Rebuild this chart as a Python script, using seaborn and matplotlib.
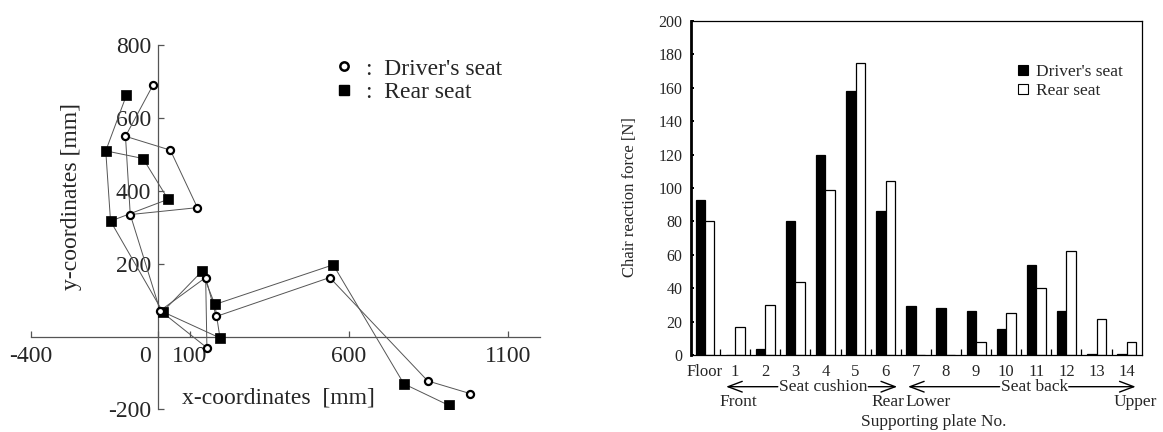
import numpy as np
import pandas as pd
import matplotlib
matplotlib.use("Agg")
import matplotlib.pyplot as plt
import seaborn as sns
from matplotlib.lines import Line2D
from matplotlib.transforms import ScaledTranslation, blended_transform_factory

# ---------------- posture: joint coordinates [mm] ----------------
joint_names = ["head", "shoulder", "elbow", "hand", "waist", "hip",
               "thigh", "thigh_low", "seat", "knee", "ankle", "toe"]
driver_x = [-17, -103, 38, 123, -88, 6, 149, 182, 153, 539, 847, 981]
driver_y = [690, 550, 512, 354, 335, 71, 162, 55, -31, 162, -122, -157]
rear_x = [-100, -165, -48, 31, -150, 14, 137, 178, 194, 550, 772, 913]
rear_y = [663, 510, 489, 377, 317, 68, 179, 88, -4, 197, -130, -189]

# segments between joints (index pairs)
driver_links = [(0, 1), (1, 2), (2, 3), (3, 4), (1, 4), (4, 5), (5, 6), (6, 7),
                (6, 8), (5, 8), (7, 9), (9, 10), (10, 11)]
rear_links = [(0, 1), (1, 2), (2, 3), (3, 4), (1, 4), (4, 5), (5, 6), (6, 7),
              (7, 8), (5, 8), (7, 9), (9, 10), (10, 11)]

# ---------------- chair reaction force per supporting plate [N] ----------------
plates = ["Floor", "1", "2", "3", "4", "5", "6", "7", "8", "9", "10", "11", "12", "13", "14"]
driver_force = [93, 0, 4, 80, 120, 158, 86, 29.5, 28.5, 26.5, 16, 54, 26.5, 1, 1]
rear_force = [80, 17, 30, 44, 99, 175, 104, 0, 0, 8, 25.5, 40, 62.5, 21.5, 8]
seat_names = ["Driver's seat", "Rear seat"]

sns.set_theme(style="white")
plt.rcParams["font.family"] = ["Liberation Serif", "DejaVu Serif"]
plt.rcParams["mathtext.fontset"] = "stix"

W, H = 1163, 432
fig = plt.figure(figsize=(W / 100, H / 100), dpi=100)


def fx(px):
    return px / W


def fy(py):
    return 1 - py / H


# ======================= left: posture =======================
ax1 = fig.add_axes([fx(31), fy(409.3), fx(540 - 31), (409.3 - 45.3) / H])
ax1.set_xlim(-400, 1200)
ax1.set_ylim(-200, 800)

axis_col = "#555555"
for side in ["top", "right"]:
    ax1.spines[side].set_visible(False)
ax1.spines["left"].set_position(("data", 0))
ax1.spines["bottom"].set_position(("data", 0))
for side in ["left", "bottom"]:
    ax1.spines[side].set_color(axis_col)
    ax1.spines[side].set_linewidth(0.9)

line_rows = []
for series, xs, ys, links in [("driver", driver_x, driver_y, driver_links),
                              ("rear", rear_x, rear_y, rear_links)]:
    for k, (a, b) in enumerate(links):
        line_rows.append({"seg": f"{series}{k}", "series": series, "x": xs[a], "y": ys[a], "order": 0})
        line_rows.append({"seg": f"{series}{k}", "series": series, "x": xs[b], "y": ys[b], "order": 1})
lines_df = pd.DataFrame(line_rows)
sns.lineplot(data=lines_df, x="x", y="y", units="seg", estimator=None, sort=False,
             color="#555555", linewidth=0.7, ax=ax1, zorder=2)

sns.scatterplot(x=rear_x, y=rear_y, marker="s", s=42, color="black",
                edgecolor="black", linewidth=0.5, ax=ax1, zorder=3)
sns.scatterplot(x=driver_x, y=driver_y, marker="o", s=26, color="white",
                edgecolor="black", linewidth=1.6, ax=ax1, zorder=4)

ax1.set_xticks([-400, 0, 100, 600, 1100])
ax1.set_xticklabels(["-400", "0", "100", "600", "1100"])
ax1.set_yticks([-200, 200, 400, 600, 800])
ax1.set_yticklabels(["-200", "200", "400", "600", "800"])
ax1.tick_params(axis="both", direction="in", length=4, width=0.9, color=axis_col,
                labelsize=17, pad=5, bottom=True, left=True)
ax1.tick_params(axis="x", pad=7)
# origin label sits left of the vertical axis
zero_lbl = ax1.get_xticklabels()[1]
zero_lbl.set_transform(zero_lbl.get_transform() + ScaledTranslation(-0.13, 0, fig.dpi_scale_trans))
ax1.set_xlabel("")
ax1.set_ylabel("")

fig.text(fx(72), fy(196), "y-coordinates [mm]", rotation=90, ha="center", va="center", fontsize=17)
fig.text(fx(278), fy(398), "x-coordinates  [mm]", ha="center", va="center", fontsize=17)

h_drv = Line2D([], [], marker="o", ls="none", markersize=6, markerfacecolor="white",
               markeredgecolor="black", markeredgewidth=1.8)
h_rear = Line2D([], [], marker="s", ls="none", markersize=7, markerfacecolor="black",
                markeredgecolor="black")
leg1 = ax1.legend([h_drv, h_rear], [":  Driver's seat", ":  Rear seat"],
                  loc="upper left", bbox_to_anchor=(fx(335), fy(58)),
                  bbox_transform=fig.transFigure, frameon=False, fontsize=17,
                  handlelength=0.8, handletextpad=0.5, borderpad=0, borderaxespad=0,
                  labelspacing=0.1)

# ======================= right: reaction forces =======================
ax2 = fig.add_axes([fx(691), fy(355.3), fx(1141.7 - 691), (355.3 - 20.7) / H])

force_df = pd.DataFrame({
    "plate": plates * 2,
    "seat": [seat_names[0]] * len(plates) + [seat_names[1]] * len(plates),
    "force": driver_force + rear_force,
})
sns.barplot(data=force_df, x="plate", y="force", hue="seat", order=plates,
            hue_order=seat_names, palette={seat_names[0]: "black", seat_names[1]: "white"},
            edgecolor="black", linewidth=0.9, width=0.63, saturation=1,
            errorbar=None, legend=False, ax=ax2)

ax2.set_xlim(-0.465, 14.5)
ax2.set_ylim(0, 200)
ax2.set_yticks(np.arange(0, 201, 20))
ax2.set_xticks(np.arange(len(plates)))
ax2.set_xticklabels(plates)
ax2.set_xticks(np.arange(len(plates) - 1) + 0.5, minor=True)
ax2.tick_params(axis="x", which="major", length=0, labelsize=12, pad=6)
ax2.tick_params(axis="x", which="minor", direction="in", length=4.5, width=0.9,
                color="black", bottom=True)
ax2.tick_params(axis="y", direction="in", length=2.5, width=1.4, color="black",
                labelsize=11.5, pad=6, left=True)
ax2.set_xlabel("")
ax2.set_ylabel("")
for side in ["top", "right", "bottom"]:
    ax2.spines[side].set_visible(True)
    ax2.spines[side].set_color("black")
    ax2.spines[side].set_linewidth(0.9)
ax2.spines["left"].set_color("black")
ax2.spines["left"].set_linewidth(2.0)

fig.text(fx(630), fy(196.7), "Chair reaction force [N]", rotation=90,
         ha="center", va="center", fontsize=12)

# grouping annotations under the plate numbers
tr = blended_transform_factory(ax2.transData, ax2.transAxes)
row2 = (355.3 - 386.7) / 334.6
row3 = (355.3 - 401.7) / 334.6
row4 = (355.3 - 421.7) / 334.6

groups = [("Seat cushion", 3.92, 0.70, 6.38), ("Seat back", 10.93, 6.74, 14.30)]
group_texts = []
for label, xc, x_left, x_right in groups:
    t = ax2.text(xc, row2, label, transform=tr, ha="center", va="center",
                 fontsize=12.5, clip_on=False)
    group_texts.append((t, x_left, x_right))

for label, xc in [("Front", 1.1), ("Rear", 6.08), ("Lower", 7.4), ("Upper", 14.3)]:
    ax2.text(xc, row3, label, transform=tr, ha="center", va="center", fontsize=12.5,
             clip_on=False)
ax2.text(7.58, row4, "Supporting plate No.", transform=tr, ha="center", va="center",
         fontsize=12.5, clip_on=False)

fig.canvas.draw()
renderer = fig.canvas.get_renderer()
inv = ax2.transData.inverted()
arrow_kw = dict(arrowstyle="->,head_length=0.85,head_width=0.32", color="black",
                lw=1.0, mutation_scale=12, shrinkA=0, shrinkB=0)
for t, x_left, x_right in group_texts:
    bb = t.get_window_extent(renderer)
    left_edge = inv.transform((bb.x0 - 1, bb.y0))[0]
    right_edge = inv.transform((bb.x1 + 1, bb.y0))[0]
    ax2.annotate("", xy=(x_left, row2), xytext=(left_edge, row2), xycoords=tr,
                 textcoords=tr, arrowprops=arrow_kw, annotation_clip=False)
    ax2.annotate("", xy=(x_right, row2), xytext=(right_edge, row2), xycoords=tr,
                 textcoords=tr, arrowprops=arrow_kw, annotation_clip=False)

h_d = Line2D([], [], marker="s", ls="none", markersize=6.5, markerfacecolor="black",
             markeredgecolor="black", markeredgewidth=0.8)
h_r = Line2D([], [], marker="s", ls="none", markersize=6.5, markerfacecolor="white",
             markeredgecolor="black", markeredgewidth=0.8)
ax2.legend([h_d, h_r], seat_names, loc="upper left",
           bbox_to_anchor=(fx(1017), fy(64)), bbox_transform=fig.transFigure,
           frameon=False, fontsize=12.5, handlelength=0.7, handletextpad=0.4,
           borderpad=0, borderaxespad=0, labelspacing=0.15)

fig.savefig("out.png", dpi=100)
